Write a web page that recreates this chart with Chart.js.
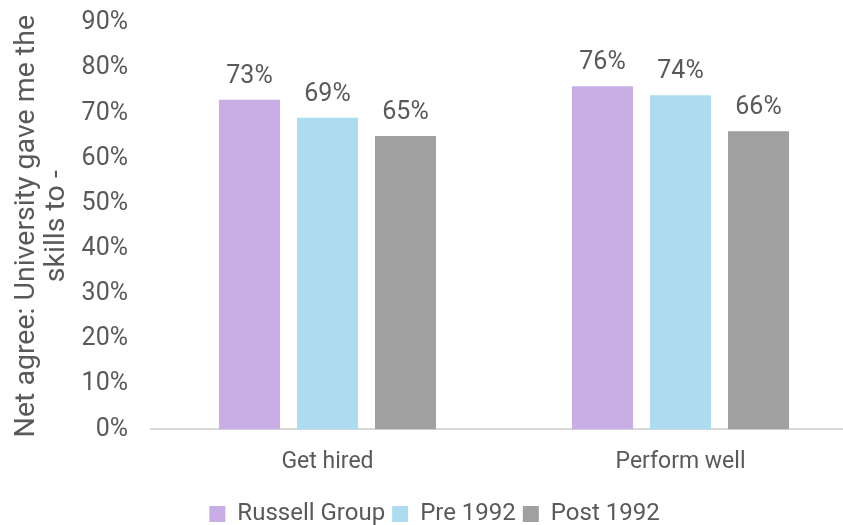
<!DOCTYPE html>
<html>
<head>
<meta charset="utf-8">
<script src="https://cdn.jsdelivr.net/npm/chart.js@4/dist/chart.umd.min.js"></script>
<style>
html,body{margin:0;padding:0;background:#fff;overflow:hidden;}
#wrap{width:860px;height:525px;position:relative;}
</style>
</head>
<body>
<div id="wrap"><canvas id="c"></canvas></div>
<script>
const categories = ["Get hired", "Perform well"];
const seriesNames = ["Russell Group", "Pre 1992", "Post 1992"];
const russellGroup = [73, 76];
const pre1992 = [69, 74];
const post1992 = [65, 66];
const yTicks = [0, 10, 20, 30, 40, 50, 60, 70, 80, 90];
const yTitle = ["Net agree: University gave me the", "skills to -"];
const colors = ["#C9AEE6", "#ADDBF0", "#A0A0A0"];

const FONT = "Roboto, 'Liberation Sans', sans-serif";
const TXT = "#595959";

const labelPlugin = {
  id: "barLabels",
  afterDatasetsDraw(chart) {
    const ctx = chart.ctx;
    ctx.save();
    ctx.font = "25px " + FONT;
    ctx.fillStyle = TXT;
    ctx.textAlign = "center";
    ctx.textBaseline = "alphabetic";
    chart.data.datasets.forEach((ds, i) => {
      const meta = chart.getDatasetMeta(i);
      meta.data.forEach((bar, j) => {
        ctx.fillText(ds.data[j] + "%", bar.x, bar.y - 17);
      });
    });
    ctx.restore();
  }
};

new Chart(document.getElementById("c"), {
  type: "bar",
  data: {
    labels: categories,
    datasets: [
      { label: seriesNames[0], data: russellGroup, backgroundColor: colors[0] },
      { label: seriesNames[1], data: pre1992, backgroundColor: colors[1] },
      { label: seriesNames[2], data: post1992, backgroundColor: colors[2] }
    ]
  },
  options: {
    responsive: true,
    maintainAspectRatio: false,
    animation: false,
    categoryPercentage: 0.663,
    barPercentage: 0.782,
    layout: { padding: { top: 23, right: 3, left: 12, bottom: -11 } },
    plugins: {
      legend: {
        position: "bottom",
        labels: {
          color: TXT,
          font: { size: 24, family: FONT },
          boxWidth: 16,
          boxHeight: 16,
          padding: 7
        }
      },
      tooltip: { enabled: false }
    },
    scales: {
      x: {
        grid: { display: false, drawTicks: false },
        border: { display: true, color: "#D9D9D9", width: 2 },
        ticks: { color: TXT, font: { size: 23, family: FONT }, padding: 19 }
      },
      y: {
        min: 0,
        max: 90,
        afterBuildTicks(scale) { scale.ticks = yTicks.map(v => ({ value: v })); },
        afterFit(scale) { scale.width = 139; scale.paddingTop = 0; scale.paddingBottom = 0; },
        grid: { display: false, drawTicks: false },
        border: { display: false },
        ticks: {
          color: TXT,
          font: { size: 25, family: FONT },
          padding: 23,
          callback: v => v + "%"
        },
        title: {
          display: true,
          text: yTitle,
          color: TXT,
          font: { size: 28.5, family: FONT, lineHeight: 1.05 },
          padding: { top: 0, bottom: 8 }
        }
      }
    }
  },
  plugins: [labelPlugin]
});
</script>
</body>
</html>
